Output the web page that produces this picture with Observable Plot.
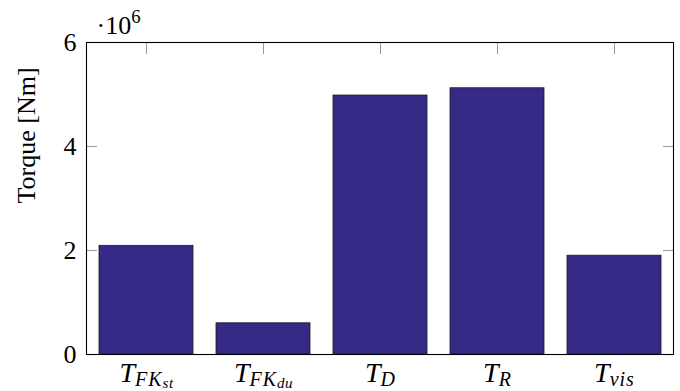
<!DOCTYPE html>
<html>
<head>
<meta charset="utf-8">
<script src="https://cdn.jsdelivr.net/npm/d3@7"></script>
<script src="https://cdn.jsdelivr.net/npm/@observablehq/plot@0.6"></script>
<style>
  html, body { margin: 0; padding: 0; background: white; }
</style>
</head>
<body>
<div id="chart"></div>
<script>
const categories = ["FKst", "FKdu", "D", "R", "vis"];
const subMain = ["FK", "FK", "D", "R", "vis"];
const subSub = ["st", "du", "", "", ""];
const torque = [2.09e6, 0.6e6, 4.98e6, 5.12e6, 1.9e6];
const yTicks = [0, 2e6, 4e6, 6e6];
const yLabel = "Torque [Nm]";
const multiplierBase = "·10";
const multiplierExp = "6";

const data = categories.map((k, i) => ({key: k, value: torque[i]}));
const FONT = "'Liberation Serif', 'Times New Roman', serif";
const TICK = "#999";

const chart = Plot.plot({
  width: 680,
  height: 391,
  marginLeft: 86,
  marginRight: 7,
  marginTop: 42,
  marginBottom: 37,
  style: {fontFamily: FONT, fontSize: "26px", background: "white", color: "black"},
  x: {domain: categories, paddingInner: 0.2, paddingOuter: 0.1, axis: null},
  y: {domain: [0, 6e6], axis: null},
  marks: [
    Plot.barY(data, {x: "key", y: "value", fill: "#352a86", stroke: "#1a1a1a", strokeWidth: 0.8}),
    Plot.axisY({ticks: yTicks, anchor: "left", tickSize: -11, tickFormat: () => "", stroke: TICK, label: null}),
    Plot.axisY({ticks: yTicks, anchor: "right", tickSize: -11, tickFormat: () => "", stroke: TICK, label: null}),
    Plot.axisX({anchor: "top", tickSize: -11, tickFormat: () => "", stroke: TICK, label: null}),
    Plot.axisY({ticks: yTicks, anchor: "left", tickSize: 0, tickPadding: 10, tickFormat: d => d / 1e6, fontSize: 26, fontFamily: FONT, label: null}),
    Plot.axisX({anchor: "bottom", tickSize: 0, tickPadding: 9, tickFormat: d => d, fontSize: 26, fontFamily: FONT, label: null}),
    Plot.text([yLabel], {frameAnchor: "left", dx: -60, dy: 5, rotate: -90, fontSize: 26, fontFamily: FONT}),
    Plot.text([multiplierBase], {frameAnchor: "top-left", dx: 10, dy: -9, textAnchor: "start", lineAnchor: "bottom", fontSize: 26, fontFamily: FONT}),
    Plot.frame({stroke: "black", strokeWidth: 1.1})
  ]
});

// Math-style subscripts on x tick labels
d3.select(chart).selectAll("text").each(function () {
  const key = this.textContent;
  const i = categories.indexOf(key);
  if (i >= 0) {
    const t = d3.select(this);
    t.text("").style("font-style", "italic");
    t.append("tspan").attr("font-size", 28).text("T");
    t.append("tspan").attr("font-size", 20).attr("dy", 4).attr("letter-spacing", 1).text(subMain[i]);
    if (subSub[i]) t.append("tspan").attr("font-size", 15).attr("dy", 2).attr("letter-spacing", 0.5).text(subSub[i]);
  } else if (key === multiplierBase) {
    const t = d3.select(this);
    t.text("");
    t.append("tspan").text(multiplierBase);
    t.append("tspan").attr("font-size", 18.6).attr("dy", -11).text(multiplierExp);
  }
});

document.getElementById("chart").appendChild(chart);
</script>
</body>
</html>
